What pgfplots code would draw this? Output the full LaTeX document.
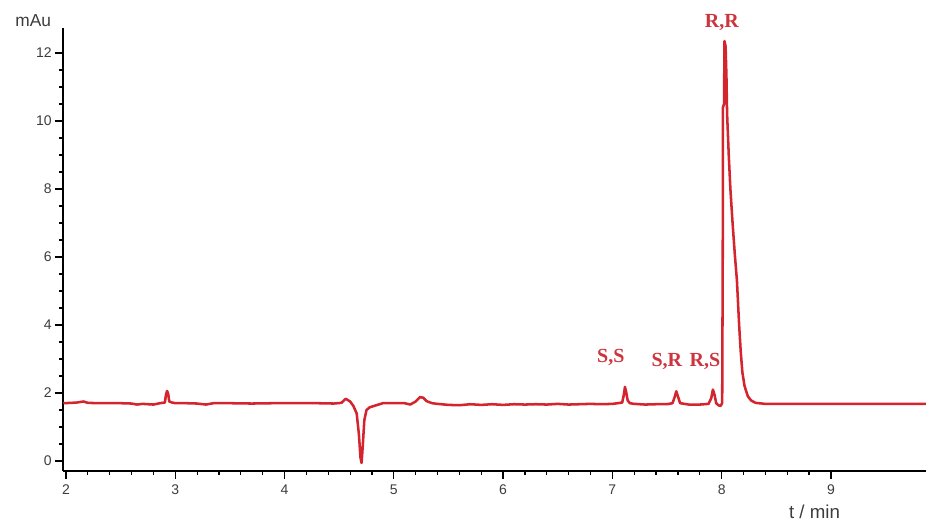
\documentclass[border=0pt]{standalone}
\usepackage{pgfplots}
\pgfplotsset{compat=1.18}
\usepackage{fontspec}
\setmainfont{Liberation Sans}
\newfontfamily\serifbf{Liberation Serif}
\definecolor{linered}{RGB}{212,36,46}
\definecolor{labred}{RGB}{205,52,62}
\definecolor{tickgray}{RGB}{60,60,60}
\begin{document}
\begin{tikzpicture}[x=0.75pt,y=0.75pt]
\begin{axis}[
  scale only axis,
  width=647.25pt, height=332.25pt,
  xmin=1.9726, xmax=9.87, ymin=-0.294, ymax=12.735,
  axis x line=bottom, axis y line=left,
  axis line style={-, black, line width=1pt},
  tick align=outside,
  xtick={2,3,4,5,6,7,8,9}, minor x tick num=4,
  ytick={0,2,4,6,8,10,12}, minor y tick num=3,
  major tick length=6pt, minor tick length=3pt,
  every tick/.style={black, line width=0.9pt},
  tick label style={font=\fontsize{10.5}{12}\selectfont, text=tickgray},
  /pgf/number format/assume math mode=true,
  xticklabel style={yshift=-1pt},
  yticklabel style={xshift=1pt},
  clip=false,
]
\addplot[linered, line width=1.9pt, line join=round] coordinates {
(1.975,1.70) (2.05,1.71) (2.10,1.72) (2.16,1.75) (2.20,1.71) (2.30,1.70) (2.40,1.70)
(2.50,1.70) (2.60,1.69) (2.65,1.66) (2.70,1.68) (2.75,1.67) (2.80,1.66) (2.86,1.70)
(2.905,1.72) (2.915,1.95) (2.925,2.06) (2.935,1.98) (2.945,1.75) (2.97,1.72) (3.00,1.70)
(3.10,1.70) (3.20,1.69) (3.28,1.66) (3.35,1.70) (3.50,1.70) (3.70,1.69) (3.90,1.70)
(4.10,1.70) (4.30,1.70) (4.45,1.69) (4.52,1.71) (4.56,1.83) (4.60,1.75) (4.63,1.62)
(4.66,1.40) (4.68,0.80) (4.695,0.10) (4.705,-0.06) (4.715,0.40) (4.73,1.20) (4.75,1.50)
(4.78,1.58) (4.82,1.62) (4.86,1.66) (4.90,1.70) (5.00,1.70) (5.10,1.70) (5.15,1.66)
(5.20,1.75) (5.24,1.88) (5.27,1.86) (5.30,1.76) (5.35,1.70) (5.40,1.68) (5.50,1.65)
(5.60,1.64) (5.70,1.67) (5.80,1.65) (5.90,1.67) (6.00,1.65) (6.10,1.67) (6.20,1.66)
(6.30,1.67) (6.40,1.66) (6.50,1.68) (6.60,1.66) (6.70,1.67) (6.80,1.68) (6.90,1.67)
(7.00,1.68) (7.05,1.70) (7.09,1.72) (7.105,1.95) (7.115,2.18) (7.125,2.05) (7.14,1.78)
(7.16,1.70) (7.20,1.68) (7.30,1.66) (7.40,1.67) (7.50,1.67) (7.55,1.70) (7.57,1.88)
(7.585,2.05) (7.60,1.90) (7.62,1.70) (7.70,1.66) (7.80,1.66) (7.88,1.68) (7.905,1.85)
(7.92,2.10) (7.935,1.95) (7.95,1.70) (7.97,1.64) (7.99,1.62) (8.005,1.70) (8.010,6.0)
(8.012,10.4) (8.022,10.5) (8.026,12.35) (8.036,12.2) (8.044,11.3) (8.050,10.2)
(8.065,9.0) (8.08,8.0) (8.10,7.0) (8.12,6.1) (8.14,5.3) (8.16,4.0) (8.175,3.2)
(8.19,2.6) (8.21,2.2) (8.24,1.9) (8.27,1.78) (8.31,1.71) (8.40,1.68) (8.60,1.68)
(9.00,1.68) (9.50,1.68) (9.87,1.68)
};
\node[text=labred, font=\serifbf\bfseries\fontsize{15}{17}\selectfont] at (axis cs:6.986,3.06) {S,S};
\node[text=labred, font=\serifbf\bfseries\fontsize{15}{17}\selectfont] at (axis cs:7.499,2.94) {S,R};
\node[text=labred, font=\serifbf\bfseries\fontsize{15}{17}\selectfont] at (axis cs:7.847,2.94) {R,S};
\node[text=labred, font=\serifbf\bfseries\fontsize{15}{17}\selectfont] at (axis cs:8.002,12.91) {R,R};
\node[text=tickgray, font=\fontsize{13}{14}\selectfont] at (axis cs:1.70,12.95) {mAu};
\node[text=tickgray, font=\fontsize{14}{15}\selectfont] at (axis cs:8.85,-1.50) {t / min};
\end{axis}
\pgfresetboundingbox
\path[use as bounding box] (-63,-53) rectangle (863,471);
\end{tikzpicture}
\end{document}
